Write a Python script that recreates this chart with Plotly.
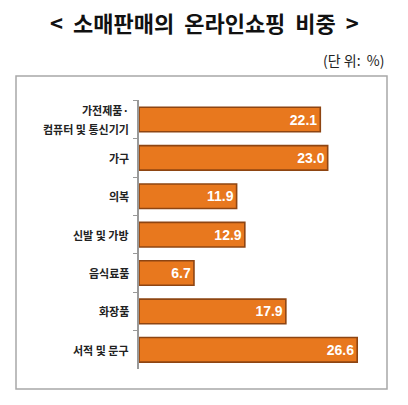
import plotly.graph_objects as go

# 소매판매 중 온라인쇼핑 비중 (단위: %)
categories = ['가전제품·<br>컴퓨터 및 통신기기', '가구', '의복', '신발 및 가방',
              '음식료품', '화장품', '서적 및 문구']
values = [22.1, 23.0, 11.9, 12.9, 6.7, 17.9, 26.6]

W, H = 408, 405

fig = go.Figure()
fig.add_trace(go.Bar(
    x=values, y=categories, orientation='h',
    marker=dict(color='#E8781E', line=dict(color='#8E4512', width=1.6)),
    texttemplate='%{x:.1f}', textposition='inside', insidetextanchor='end',
    textfont=dict(family='Liberation Sans, Arial', size=14, color='white', weight='bold'),
    cliponaxis=False, hoverinfo='skip',
))

fig.update_layout(
    width=W, height=H,
    margin=dict(l=0, r=0, t=0, b=0),
    paper_bgcolor='white', plot_bgcolor='white',
    bargap=0.36, showlegend=False,
    font=dict(family='Noto Sans CJK KR', color='#222'),
)
fig.update_xaxes(domain=[139 / W, 381 / W], range=[0, 29.5], visible=False)
fig.update_yaxes(
    domain=[(H - 369) / H, (H - 100) / H],
    autorange='reversed', tickson='boundaries',
    ticks='outside', ticklen=4, tickcolor='#999', tickwidth=1,
    showline=True, linecolor='#999', linewidth=1.5,
    showgrid=False, showticklabels=False,
)

# 항목 이름 (두 줄 항목은 줄 간격을 띄워서)
for cat in categories:
    lines = cat.split('<br>')
    for i, line in enumerate(lines):
        shift = (i - (len(lines) - 1) / 2) * -19
        fig.add_annotation(text=line, xref='paper', yref='y', x=131 / W, y=cat,
                           xanchor='right', yanchor='middle', yshift=shift,
                           showarrow=False,
                           font=dict(family='Noto Sans CJK KR', size=11,
                                     color='#222', weight='bold'))

# 바깥 테두리
fig.add_shape(type='rect', xref='paper', yref='paper',
              x0=16 / W, x1=387 / W, y0=(H - 389) / H, y1=(H - 76) / H,
              line=dict(color='#A8A8A8', width=1.5))

fig.add_annotation(text='<  소매판매의  온라인쇼핑  비중  >', xref='paper', yref='paper',
                   x=0.5, y=(H - 22) / H, showarrow=False, yanchor='middle',
                   font=dict(family='Noto Sans CJK KR', size=22, color='#111', weight='bold'))
fig.add_annotation(text='(단 위:  %)', xref='paper', yref='paper',
                   x=386 / W, y=(H - 60) / H, showarrow=False,
                   xanchor='right', yanchor='middle',
                   font=dict(family='Noto Sans CJK KR', size=14, color='#222'))

fig.write_html('out.html', config={'displayModeBar': False},
               post_script="document.body.style.margin='0';")
